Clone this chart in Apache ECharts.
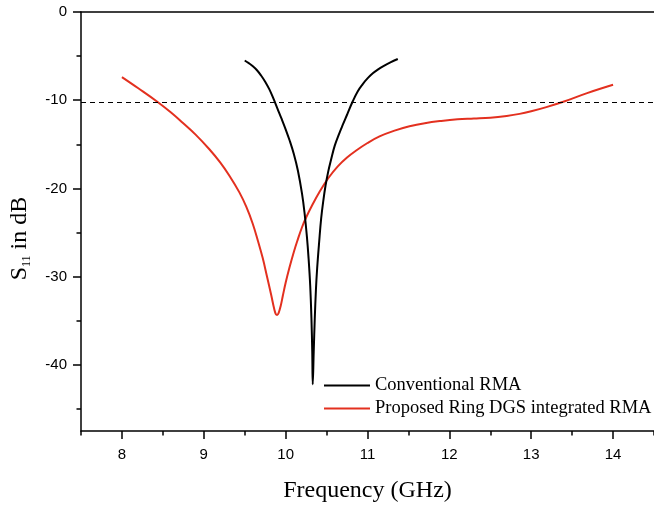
<!DOCTYPE html>
<html>
<head>
<meta charset="utf-8">
<script src="https://cdn.jsdelivr.net/npm/echarts@6/dist/echarts.min.js"></script>
<style>
  html, body { margin: 0; padding: 0; background: #ffffff; }
  #chart { width: 654px; height: 508px; }
</style>
</head>
<body>
<div id="chart"></div>
<script>
// ---- Data ----
const seriesNames = ['Conventional RMA', 'Proposed Ring DGS integrated RMA'];

// Conventional RMA: frequency (GHz) and S11 (dB)
const convFreq = [9.50, 9.55, 9.60, 9.65, 9.70, 9.75, 9.80, 9.85, 9.90, 9.95, 10.00, 10.05, 10.10, 10.15, 10.20, 10.23, 10.26, 10.28, 10.30, 10.315, 10.325, 10.331,
                  10.343, 10.356, 10.37, 10.385, 10.41, 10.434, 10.46, 10.487, 10.52, 10.556, 10.60, 10.658, 10.70, 10.75, 10.82, 10.88, 10.94, 11.00, 11.065, 11.13, 11.20, 11.28, 11.37];
const convS11  = [-5.50, -5.80, -6.15, -6.60, -7.20, -7.90, -8.75, -9.80, -10.95, -12.10, -13.30, -14.60, -16.10, -18.00, -20.60, -22.70, -25.50, -27.90, -31.00, -34.70, -38.50, -42.20,
                  -38.50, -34.70, -31.50, -29.05, -26.00, -23.40, -21.40, -19.70, -18.10, -16.70, -15.15, -13.70, -12.75, -11.65, -10.12, -9.00, -8.20, -7.53, -6.95, -6.50, -6.10, -5.71, -5.33];

// Proposed Ring DGS integrated RMA
const dgsFreq = [8.00, 8.20, 8.436, 8.60, 8.742, 8.90, 9.068, 9.20, 9.313, 9.435, 9.52, 9.598, 9.66, 9.72, 9.77, 9.823, 9.86, 9.88, 9.896, 9.915, 9.94, 9.965,
                 10.00, 10.046, 10.10, 10.148, 10.20, 10.25, 10.33, 10.413, 10.52, 10.637, 10.75, 10.862, 11.00, 11.147, 11.33, 11.513, 11.70, 11.90,
                 12.10, 12.30, 12.50, 12.70, 12.858, 13.00, 13.185, 13.41, 13.674, 14.00];
const dgsS11  = [-7.38, -8.65, -10.20, -11.40, -12.56, -13.90, -15.56, -17.05, -18.56, -20.45, -22.10, -24.00, -25.90, -27.90, -29.90, -32.06, -33.65, -34.25, -34.35, -34.10, -33.30, -32.20,
                 -30.70, -29.00, -27.20, -25.80, -24.40, -23.30, -21.80, -20.40, -18.85, -17.50, -16.50, -15.70, -14.85, -14.10, -13.45, -12.95, -12.60, -12.35,
                 -12.17, -12.08, -11.98, -11.78, -11.55, -11.25, -10.78, -10.12, -9.22, -8.25];

// reference level (dashed line)
const refLevel = [-10.2];

// axes
const xRange = [7.5, 14.5];
const yRange = [-47.5, 0];
const xMajor = [8, 9, 10, 11, 12, 13, 14];
const xMinor = [7.5, 8.5, 9.5, 10.5, 11.5, 12.5, 13.5, 14.5];
const yMajor = [0, -10, -20, -30, -40];
const yMinor = [-5, -15, -25, -35, -45];

const xTitle = 'Frequency (GHz)';

// ---- Chart ----
const pairs = (xs, ys) => xs.map((x, i) => [x, ys[i]]);
const chart = echarts.init(document.getElementById('chart'), null, { renderer: 'canvas' });

const labelFont = 'Liberation Sans, Arial, sans-serif';
const serifFont = 'Liberation Serif, Times New Roman, serif';
const axisColor = '#000';

chart.setOption({
  backgroundColor: '#ffffff',
  animation: false,
  grid: { left: 81, top: 12, right: 0, bottom: 74 },
  legend: {
    orient: 'vertical',
    left: 324,
    top: 376,
    padding: 0,
    itemGap: 4,
    itemWidth: 46,
    itemHeight: 2,
    icon: 'rect',
    textStyle: { fontFamily: serifFont, fontSize: 18.5, color: '#000' },
    data: seriesNames
  },
  xAxis: [
    {
      type: 'value', position: 'bottom', min: xRange[0], max: xRange[1],
      name: xTitle, nameLocation: 'middle', nameGap: 48,
      nameTextStyle: { fontFamily: serifFont, fontSize: 24, color: '#000' },
      axisLine: { show: true, onZero: false, lineStyle: { color: axisColor, width: 1.5 } },
      axisTick: { show: true, inside: false, length: 8, customValues: xMajor, lineStyle: { color: axisColor, width: 1.5 } },
      axisLabel: { show: true, margin: 16, customValues: xMajor, fontFamily: labelFont, fontSize: 15, color: '#000' },
      splitLine: { show: false }
    },
    {
      type: 'value', position: 'bottom', min: xRange[0], max: xRange[1],
      axisLine: { show: false, onZero: false },
      axisTick: { show: true, inside: false, length: 4.5, customValues: xMinor, lineStyle: { color: axisColor, width: 1.5 } },
      axisLabel: { show: false },
      splitLine: { show: false }
    },
    {
      type: 'value', position: 'top', min: xRange[0], max: xRange[1],
      axisLine: { show: true, onZero: false, lineStyle: { color: axisColor, width: 1.5 } },
      axisTick: { show: false }, axisLabel: { show: false }, splitLine: { show: false }
    }
  ],
  yAxis: [
    {
      type: 'value', position: 'left', min: yRange[0], max: yRange[1],
      name: '{s|S}{sub|11}{s| in dB}', nameLocation: 'middle', nameGap: 48,
      nameTextStyle: {
        fontFamily: serifFont, fontSize: 24, color: '#000',
        padding: [0, 34, 0, 0],
        rich: {
          s: { fontFamily: serifFont, fontSize: 24, color: '#000' },
          sub: { fontFamily: serifFont, fontSize: 12, color: '#000', padding: [14, 0, 0, 0] }
        }
      },
      axisLine: { show: true, onZero: false, lineStyle: { color: axisColor, width: 1.5 } },
      axisTick: { show: true, inside: false, length: 8, customValues: yMajor, lineStyle: { color: axisColor, width: 1.5 } },
      axisLabel: { show: true, margin: 14, customValues: yMajor, fontFamily: labelFont, fontSize: 15, color: '#000' },
      splitLine: { show: false }
    },
    {
      type: 'value', position: 'left', min: yRange[0], max: yRange[1],
      axisLine: { show: false, onZero: false },
      axisTick: { show: true, inside: false, length: 4.5, customValues: yMinor, lineStyle: { color: axisColor, width: 1.5 } },
      axisLabel: { show: false },
      splitLine: { show: false }
    }
  ],
  series: [
    {
      name: seriesNames[0], type: 'line', xAxisIndex: 0, yAxisIndex: 0,
      data: pairs(convFreq, convS11),
      symbol: 'none', smooth: 0.4,
      lineStyle: { color: '#000000', width: 2 }, itemStyle: { color: '#000000' },
      z: 3,
      markLine: {
        silent: true, symbol: 'none', label: { show: false },
        lineStyle: { color: '#000', width: 1, type: [5, 4] },
        data: refLevel.map(v => ({ yAxis: v }))
      }
    },
    {
      name: seriesNames[1], type: 'line', xAxisIndex: 0, yAxisIndex: 0,
      data: pairs(dgsFreq, dgsS11),
      symbol: 'none', smooth: 0.4,
      lineStyle: { color: '#e3301f', width: 2 }, itemStyle: { color: '#e3301f' },
      z: 2
    }
  ]
});
</script>
</body>
</html>
